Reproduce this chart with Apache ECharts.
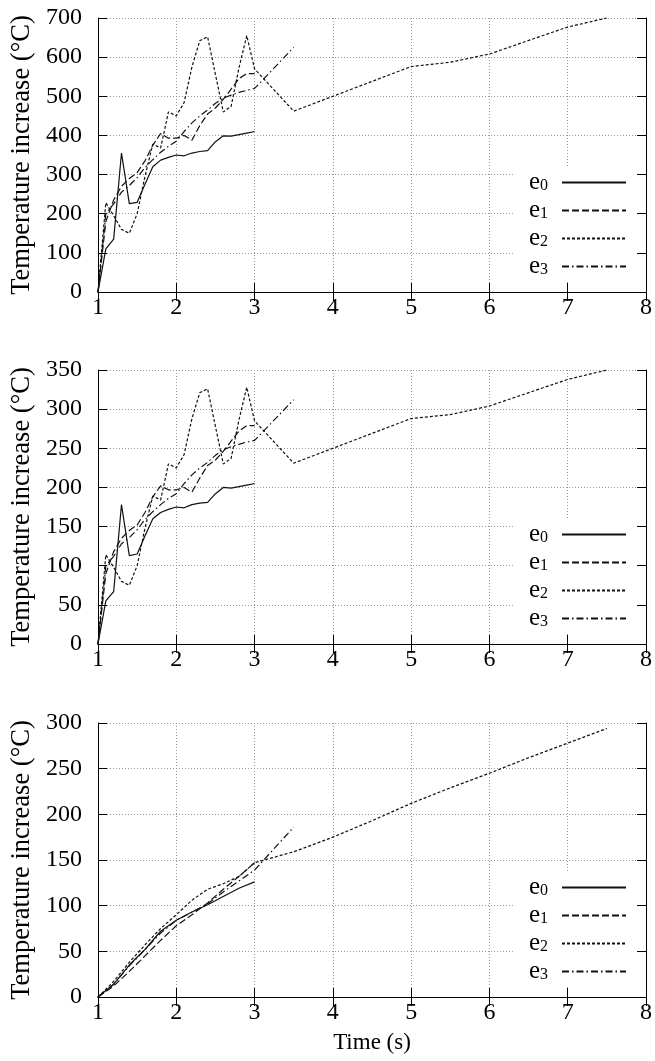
<!DOCTYPE html>
<html>
<head>
<meta charset="utf-8">
<script src="https://cdn.jsdelivr.net/npm/echarts@6/dist/echarts.min.js"></script>
<style>
  body { margin: 0; background: #fff; }
  #chart { width: 655px; height: 1061px; }
</style>
</head>
<body>
<div id="chart"></div>
<script>
// time samples (s)
const time01 = [1.0, 1.1, 1.2, 1.3, 1.4, 1.5, 1.6, 1.7, 1.8, 1.9, 2.0, 2.1, 2.2, 2.3, 2.4, 2.5, 2.6, 2.7, 2.8, 2.9, 3.0]
const time02 = [1.0, 1.2, 1.4, 1.6, 1.8, 2.0, 2.2, 2.4, 2.6, 2.8, 3.0]
const timeE3Tail = [3.5]
const timeE2TailA = [3.5, 4, 5, 5.5, 6, 7, 7.5]
const timeE2TailC = [3.5, 4, 4.5, 5, 5.5, 6, 6.5, 7, 7.5]

// panel 1 (top)
const p1e0 = [0, 110, 135, 355, 226, 229, 275, 320, 337, 344, 350, 348, 355, 359, 361, 384, 399, 398, 402, 406, 410]
const p1e1 = [0, 180, 235, 270, 290, 305, 335, 375, 405, 393, 393, 400, 388, 425, 455, 470, 492, 518, 545, 558, 558]
const p1e2 = [0, 228, 195, 160, 150, 200, 295, 378, 368, 460, 450, 484, 575, 642, 652, 556, 460, 474, 572, 655, 570]
const p1e2Tail = [462, 500, 576, 587, 608, 677, 700]
const p1e3 = [0, 200, 225, 255, 272, 292, 318, 338, 357, 372, 385, 410, 432, 450, 465, 482, 495, 503, 510, 515, 520]
const p1e3Tail = [625]

// panel 2 (middle)
const p2e0 = [0, 55, 67, 178, 113, 115, 138, 160, 168, 172, 175, 174, 178, 180, 181, 192, 200, 199, 201, 203, 205]
const p2e1 = [0, 90, 118, 135, 145, 152, 168, 188, 202, 197, 197, 200, 194, 212, 228, 235, 246, 259, 272, 279, 279]
const p2e2 = [0, 114, 98, 80, 75, 100, 148, 189, 184, 230, 225, 242, 288, 321, 326, 278, 230, 237, 286, 328, 285]
const p2e2Tail = [231, 250, 288, 293, 304, 338, 350]
const p2e3 = [0, 100, 112, 128, 136, 146, 159, 169, 178, 186, 192, 205, 216, 225, 232, 241, 248, 252, 255, 258, 260]
const p2e3Tail = [312]

// panel 3 (bottom)
const p3e0 = [0, 14, 35, 52, 72, 84, 93, 101, 110, 119, 126]
const p3e1 = [0, 12, 28, 45, 62, 78, 90, 103, 118, 132, 147]
const p3e2 = [0, 17, 38, 57, 75, 90, 106, 118, 124, 132, 147]
const p3e2Tail = [159, 175, 193, 212, 229, 245, 262, 278, 294]
const p3e3 = [0, 14, 34, 52, 70, 84, 93, 102, 115, 127, 139]
const p3e3Tail = [186]

const yMax = [700, 350, 300]
const yStep = [100, 50, 50]
const gridTops = [18, 370, 723]
const names = ['e0', 'e1', 'e2', 'e3']
const dashes = ['solid', [7, 3], [3, 2], [7, 3, 1.5, 3]]

const FONT = 'Liberation Serif'

function pairs (ts, vs) {
  return ts.map((t, i) => [t, vs[i]])
}

const panels = [
  [pairs(time01, p1e0), pairs(time01, p1e1),
    pairs(time01, p1e2).concat(pairs(timeE2TailA, p1e2Tail)),
    pairs(time01, p1e3).concat(pairs(timeE3Tail, p1e3Tail))],
  [pairs(time01, p2e0), pairs(time01, p2e1),
    pairs(time01, p2e2).concat(pairs(timeE2TailA, p2e2Tail)),
    pairs(time01, p2e3).concat(pairs(timeE3Tail, p2e3Tail))],
  [pairs(time02, p3e0), pairs(time02, p3e1),
    pairs(time02, p3e2).concat(pairs(timeE2TailC, p3e2Tail)),
    pairs(time02, p3e3).concat(pairs(timeE3Tail, p3e3Tail))]
]

const grids = []
const xAxes = []
const yAxes = []
const legends = []
const series = []

const axisLine = { show: true, lineStyle: { color: '#000', width: 1 } }
const tick = { show: true, inside: true, length: 9, lineStyle: { color: '#000' } }
const grid = { show: true, lineStyle: { color: '#999', type: [1, 2], width: 1 } }

panels.forEach((lines, p) => {
  grids.push({ left: 98, right: 8, top: gridTops[p], height: 274 })
  // bottom + mirrored top x axis
  xAxes.push({
    gridIndex: p, type: 'value', min: 1, max: 8, interval: 1, position: 'bottom',
    axisLine, axisTick: tick, splitLine: grid,
    axisLabel: { color: '#000', fontSize: 24, fontFamily: FONT, margin: 4 },
    name: p === 2 ? 'Time (s)' : '',
    nameLocation: 'middle', nameGap: 34,
    nameTextStyle: { color: '#000', fontSize: 23, fontFamily: FONT }
  })
  xAxes.push({
    gridIndex: p, type: 'value', min: 1, max: 8, interval: 1, position: 'top',
    axisLine, axisTick: tick, splitLine: { show: false }, axisLabel: { show: false }
  })
  // left + mirrored right y axis
  yAxes.push({
    gridIndex: p, type: 'value', min: 0, max: yMax[p], interval: yStep[p], position: 'left',
    axisLine, axisTick: tick, splitLine: grid,
    axisLabel: { color: '#000', fontSize: 24, fontFamily: FONT, margin: 16 },
    name: 'Temperature increase (°C)',
    nameLocation: 'middle', nameGap: 61,
    nameTextStyle: { color: '#000', fontSize: 26.5, fontFamily: FONT }
  })
  yAxes.push({
    gridIndex: p, type: 'value', min: 0, max: yMax[p], interval: yStep[p], position: 'right',
    axisLine, axisTick: tick, splitLine: { show: false }, axisLabel: { show: false }
  })
  legends.push({
    data: names,
    orient: 'vertical',
    align: 'right',
    right: 19,
    top: gridTops[p] + 149,
    padding: [3, 9, 1, 16],
    itemGap: 3,
    itemWidth: 64,
    itemHeight: 14,
    backgroundColor: '#fff',
    selectedMode: false,
    itemStyle: { opacity: 0 },
    formatter: name => '{e|e}{s|' + name.slice(1) + '}',
    textStyle: {
      color: '#000',
      fontFamily: FONT,
      rich: {
        e: { fontSize: 25, fontFamily: FONT, lineHeight: 22, verticalAlign: 'middle' },
        s: { fontSize: 16, fontFamily: FONT, lineHeight: 10, verticalAlign: 'bottom', padding: [0, 9, 0, 0] }
      }
    }
  })
  lines.forEach((data, k) => {
    series.push({
      name: names[k],
      type: 'line',
      xAxisIndex: p * 2,
      yAxisIndex: p * 2,
      data,
      symbol: 'none',
      showSymbol: false,
      lineStyle: { color: '#111', width: 1.2, type: dashes[k] },
      itemStyle: { color: '#111' }
    })
  })
})

const chart = echarts.init(document.getElementById('chart'))
chart.setOption({
  animation: false,
  backgroundColor: '#fff',
  grid: grids,
  xAxis: xAxes,
  yAxis: yAxes,
  legend: legends,
  series
})
</script>
</body>
</html>
